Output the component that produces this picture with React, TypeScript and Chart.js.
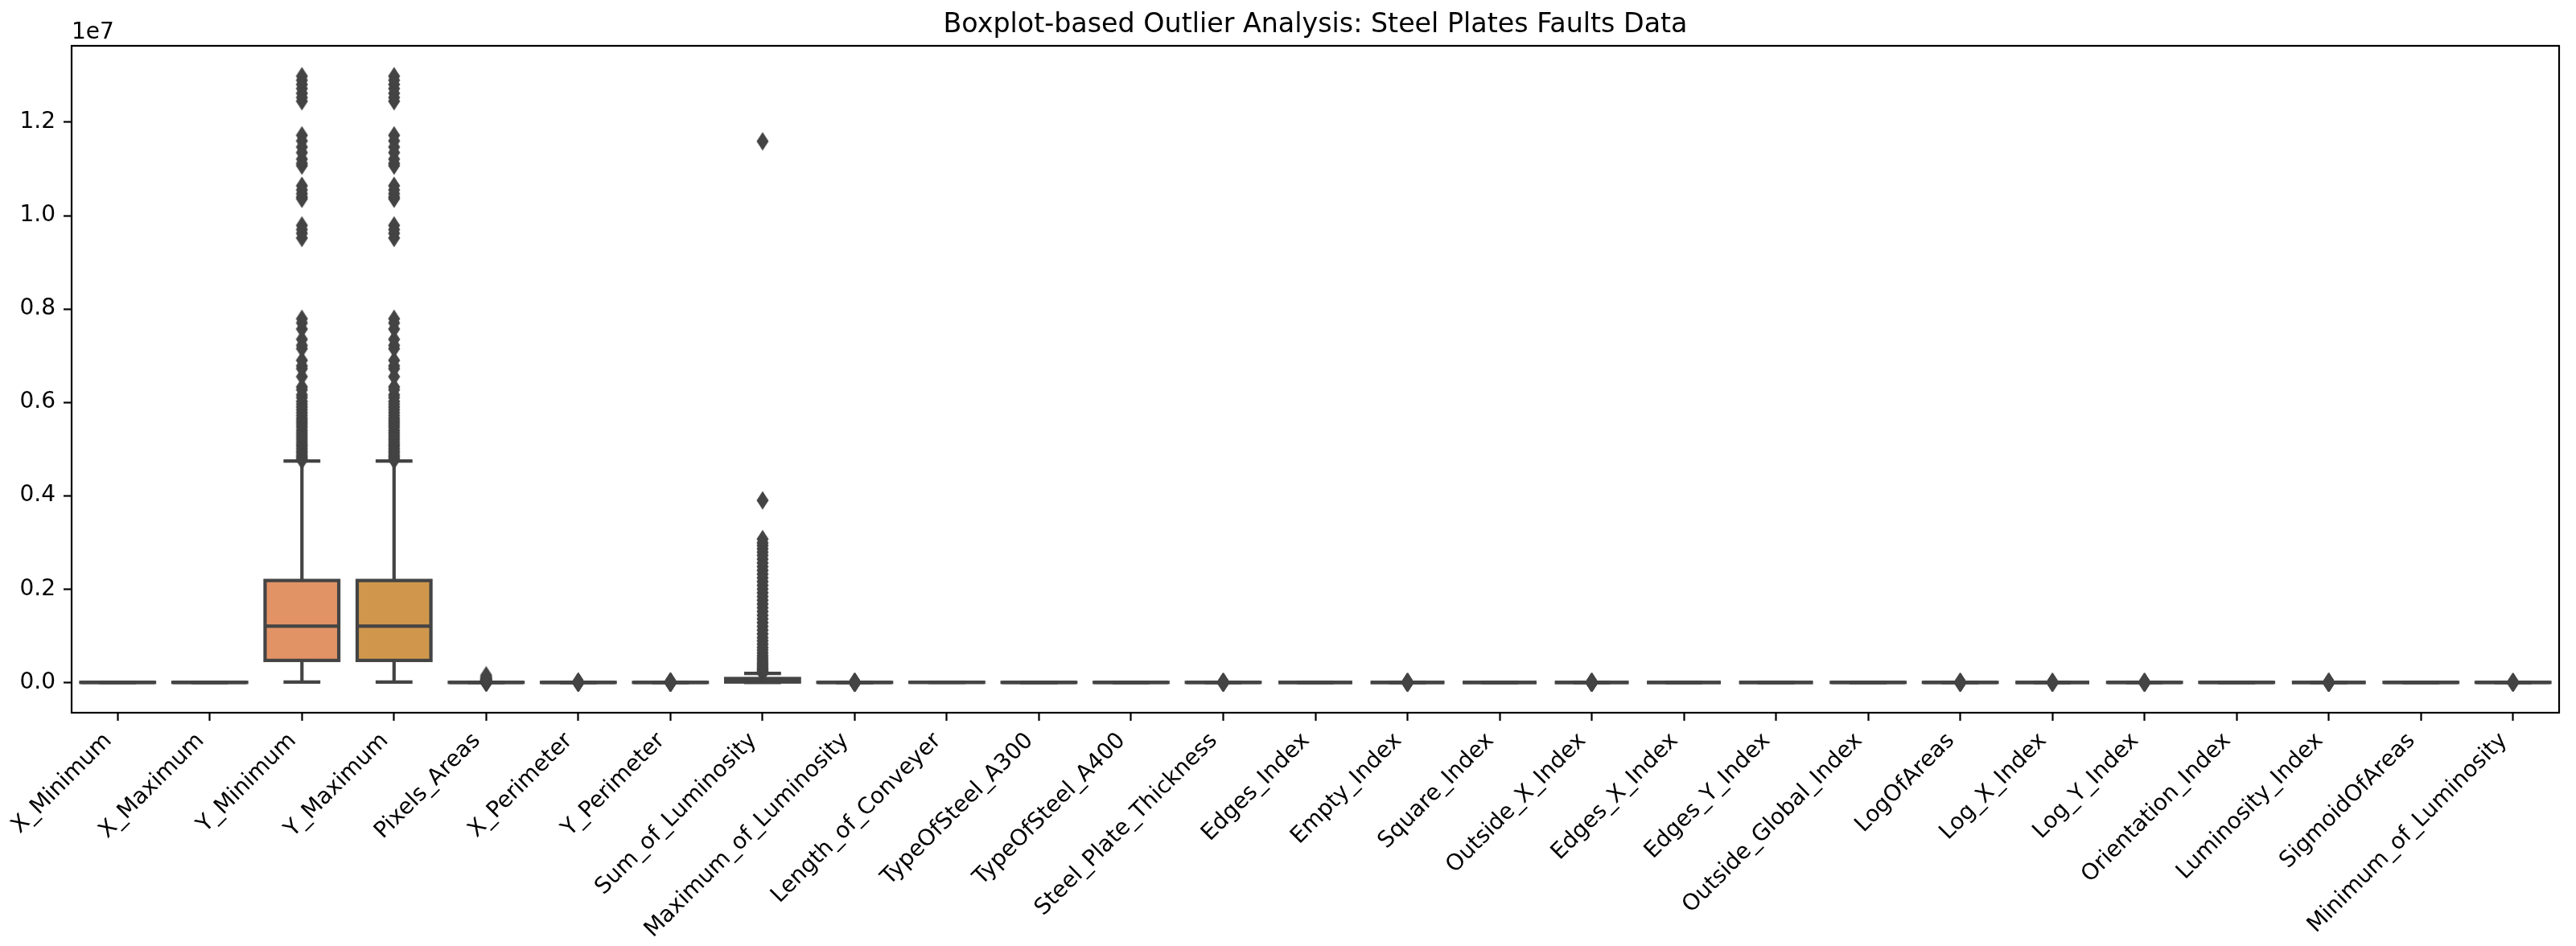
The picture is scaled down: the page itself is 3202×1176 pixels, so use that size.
import React, { useEffect, useRef } from 'react';
import { Chart, registerables } from 'chart.js';

Chart.register(...registerables);

const TITLE = 'Boxplot-based Outlier Analysis: Steel Plates Faults Data';

const categories = [
  'X_Minimum', 'X_Maximum', 'Y_Minimum', 'Y_Maximum', 'Pixels_Areas', 'X_Perimeter', 'Y_Perimeter',
  'Sum_of_Luminosity', 'Maximum_of_Luminosity', 'Length_of_Conveyer', 'TypeOfSteel_A300', 'TypeOfSteel_A400',
  'Steel_Plate_Thickness', 'Edges_Index', 'Empty_Index', 'Square_Index', 'Outside_X_Index', 'Edges_X_Index',
  'Edges_Y_Index', 'Outside_Global_Index', 'LogOfAreas', 'Log_X_Index', 'Log_Y_Index', 'Orientation_Index',
  'Luminosity_Index', 'SigmoidOfAreas', 'Minimum_of_Luminosity',
];

const q1Values = [51, 192, 471253, 471281, 84, 15, 13, 9522, 124, 1358, 0, 0, 40, 0.0604, 0.3158, 0.5161, 0.0044, 0.4118, 0.5968, 0, 1.9243, 1, 1.0792, -0.2727, -0.195, 0.2482, 63];
const medianValues = [435, 467, 1204128, 1204136, 174, 26, 25, 19202, 127, 1364, 0, 1, 70, 0.2273, 0.4121, 0.7778, 0.0101, 0.6364, 0.9474, 1, 2.2406, 1.1761, 1.3222, 0.1111, -0.133, 0.5063, 90];
const q3Values = [1053, 1072, 2183073, 2183084, 822, 84, 83, 83011, 140, 1650, 1, 1, 80, 0.5738, 0.5016, 1, 0.0235, 0.8, 1, 1, 2.9149, 1.5185, 1.7324, 0.5294, -0.0666, 0.9998, 106];
const whiskerLowValues = [0, 4, 6712, 6724, 2, 2, 1, 250, 100, 1227, 0, 0, 40, 0, 0.0417, 0.0083, 0.0015, 0.0144, 0.0484, 0, 0.4771, 0.301, 0.1139, -0.991, -0.3876, 0.119, 0];
const whiskerHighValues = [1705, 1713, 4742000, 4742100, 1928, 187, 186, 193000, 164, 1794, 1, 1, 140, 0.9952, 0.7788, 1, 0.0523, 1, 1, 1, 4.3845, 2.2718, 2.7076, 0.9917, 0.1239, 1, 170];

const yMinimumOutliers = [
  4760000, 4790000, 4830000, 4870000, 4920000, 4960000, 5010000, 5060000, 5100000, 5150000, 5200000,
  5250000, 5300000, 5350000, 5400000, 5460000, 5510000, 5560000, 5610000, 5660000, 5720000, 5780000,
  5840000, 5900000, 5960000, 6020000, 6100000, 6160000, 6270000, 6330000, 6550000, 6720000, 6780000,
  6900000, 7150000, 7220000, 7350000, 7570000, 7700000, 7790000,
  9520000, 9620000, 9700000, 9790000, 10360000, 10400000, 10470000, 10550000, 10640000,
  11070000, 11120000, 11210000, 11350000, 11470000, 11600000, 11720000,
  12450000, 12530000, 12620000, 12720000, 12810000, 12900000, 12987661,
];
const yMaximumOutliers = [
  4760040, 4790050, 4830030, 4870060, 4920020, 4960040, 5010050, 5060030, 5100040, 5150060, 5200030,
  5250020, 5300050, 5350040, 5400030, 5460060, 5510020, 5560040, 5610050, 5660030, 5720040, 5780020,
  5840060, 5900030, 5960050, 6020040, 6100030, 6160060, 6270020, 6330040, 6550050, 6720030, 6780040,
  6900060, 7150030, 7220040, 7350050, 7570020, 7700040, 7790060,
  9520040, 9620030, 9700050, 9790040, 10360060, 10400030, 10470040, 10550020, 10640050,
  11070040, 11120030, 11210060, 11350040, 11470020, 11600050, 11720030,
  12450040, 12530020, 12620050, 12720040, 12810030, 12900060, 12987692,
];
const pixelsAreasOutliers = [1950, 2100, 2400, 2800, 3300, 3900, 4600, 5500, 6600, 8000, 9700, 11800, 14500, 18000, 22500, 28000, 35000, 44000, 55000, 70000, 90000, 115000, 152655];
const xPerimeterOutliers = [190, 210, 240, 280, 330, 400, 500, 650, 850, 1200, 1700, 2500, 3600, 5200, 7400, 10449];
const yPerimeterOutliers = [190, 215, 250, 300, 370, 460, 600, 800, 1100, 1600, 2400, 3500, 5200, 7800, 11500, 18152];
const sumLuminosityOutliers = [
  198000, 215000, 240000, 270000, 300000, 340000, 380000, 420000, 470000, 520000, 570000, 630000,
  690000, 750000, 820000, 890000, 960000, 1040000, 1120000, 1200000, 1280000, 1360000, 1440000,
  1520000, 1600000, 1680000, 1760000, 1840000, 1920000, 2000000, 2080000, 2160000, 2240000, 2320000,
  2400000, 2480000, 2560000, 2640000, 2720000, 2790000, 2860000, 2930000, 2990000, 3070000,
  3900000, 11591414,
];
const maxLuminosityOutliers = [37, 60, 78, 88, 95, 98, 165, 170, 180, 195, 215, 235, 253];
const plateThicknessOutliers = [143, 150, 175, 185, 200, 220, 250, 290, 300];
const emptyIndexOutliers = [0, 0.0071, 0.02, 0.0339, 0.79, 0.82, 0.8571, 0.89, 0.9275];
const outsideXIndexOutliers = [0.0529, 0.06, 0.07, 0.085, 0.1, 0.13, 0.17, 0.23, 0.3, 0.42, 0.6, 0.8759];
const logOfAreasOutliers = [0.301, 4.42, 4.52, 4.61, 4.73, 4.85, 4.97, 5.07, 5.1837];
const logXIndexOutliers = [2.3, 2.38, 2.47, 2.56, 2.68, 2.8, 2.93, 3.0741];
const logYIndexOutliers = [0, 2.72, 2.85, 3.0, 3.2, 3.45, 3.7, 4.0, 4.2587];
const luminosityIndexOutliers = [-0.9989, -0.8, -0.62, -0.5, -0.42, -0.39, 0.13, 0.18, 0.25, 0.35, 0.48, 0.6421];
const minLuminosityOutliers = [171, 175, 180, 186, 191, 197, 203];

const outliersByCategory: Record<string, number[]> = {
  Y_Minimum: yMinimumOutliers,
  Y_Maximum: yMaximumOutliers,
  Pixels_Areas: pixelsAreasOutliers,
  X_Perimeter: xPerimeterOutliers,
  Y_Perimeter: yPerimeterOutliers,
  Sum_of_Luminosity: sumLuminosityOutliers,
  Maximum_of_Luminosity: maxLuminosityOutliers,
  Steel_Plate_Thickness: plateThicknessOutliers,
  Empty_Index: emptyIndexOutliers,
  Outside_X_Index: outsideXIndexOutliers,
  LogOfAreas: logOfAreasOutliers,
  Log_X_Index: logXIndexOutliers,
  Log_Y_Index: logYIndexOutliers,
  Luminosity_Index: luminosityIndexOutliers,
  Minimum_of_Luminosity: minLuminosityOutliers,
};

const yTickValues = [0, 2000000, 4000000, 6000000, 8000000, 10000000, 12000000];
const Y_MIN = -649385;
const Y_MAX = 13637077;

const boxColors = [
  '#E37A8C', '#E3826E', '#E29366', '#D0974C', '#BF9E47', '#ADA544', '#9DA943', '#8CAE45', '#72B349',
  '#58B65C', '#4CB479', '#4CB28B', '#4DB19A', '#4EB0A7', '#4FAFB3', '#51AEBF', '#55ACCB', '#5BA8D9',
  '#76A0E0', '#929AE3', '#A794E3', '#BB8CE3', '#CF84E1', '#DB7ED5', '#E07CC3', '#E27BB1', '#E27B9E',
];

const LINE_COLOR = '#444444';
const FONT = 'DejaVu Sans';

const boxPlugin = {
  id: 'boxWhiskers',
  afterDatasetDraw(chart: any, args: any) {
    if (args.meta.type !== 'bar') return;
    const ctx = chart.ctx;
    const ys = chart.scales.y;
    ctx.save();
    ctx.strokeStyle = LINE_COLOR;
    ctx.lineWidth = 4.2;
    ctx.lineCap = 'butt';
    ctx.lineJoin = 'miter';
    const line = (x1: number, y1: number, x2: number, y2: number) => {
      ctx.beginPath();
      ctx.moveTo(x1, y1);
      ctx.lineTo(x2, y2);
      ctx.stroke();
    };
    args.meta.data.forEach((el: any, i: number) => {
      const { x, width } = el.getProps(['x', 'width'], true);
      const left = x - width / 2;
      const right = x + width / 2;
      const pQ1 = ys.getPixelForValue(q1Values[i]);
      const pQ3 = ys.getPixelForValue(q3Values[i]);
      const pMed = ys.getPixelForValue(medianValues[i]);
      const pLo = ys.getPixelForValue(whiskerLowValues[i]);
      const pHi = ys.getPixelForValue(whiskerHighValues[i]);
      ctx.strokeRect(left, pQ3, width, pQ1 - pQ3);
      line(x, pQ3, x, pHi);
      line(x, pQ1, x, pLo);
      line(x - width / 4, pHi, x + width / 4, pHi);
      line(x - width / 4, pLo, x + width / 4, pLo);
      line(left, pMed, right, pMed);
    });
    ctx.restore();
  },
  afterDraw(chart: any) {
    const ctx = chart.ctx;
    const a = chart.chartArea;
    ctx.save();
    ctx.strokeStyle = '#000';
    ctx.lineWidth = 2.2;
    ctx.strokeRect(a.left, a.top, a.right - a.left, a.bottom - a.top);
    ctx.fillStyle = '#000';
    ctx.font = `28px "${FONT}"`;
    ctx.textAlign = 'left';
    ctx.textBaseline = 'alphabetic';
    ctx.fillText('1e7', a.left, a.top - 9);
    ctx.restore();
  },
};

function makeDiamond(): HTMLCanvasElement {
  const d = document.createElement('canvas');
  d.width = 16;
  d.height = 24;
  const c = d.getContext('2d')!;
  c.fillStyle = LINE_COLOR;
  c.beginPath();
  c.moveTo(8, 0.5);
  c.lineTo(15.5, 12);
  c.lineTo(8, 23.5);
  c.lineTo(0.5, 12);
  c.closePath();
  c.fill();
  return d;
}

export default function App() {
  const canvasRef = useRef<HTMLCanvasElement | null>(null);

  useEffect(() => {
    document.body.style.margin = '0';
    const canvas = canvasRef.current;
    if (!canvas) return;
    Chart.defaults.font.family = FONT;
    const diamond = makeDiamond();

    const outlierPoints: { x: string; y: number }[] = [];
    categories.forEach((cat) => {
      (outliersByCategory[cat] || []).forEach((v) => outlierPoints.push({ x: cat, y: v }));
    });

    const chart = new Chart(canvas, {
      type: 'bar',
      data: {
        labels: categories,
        datasets: [
          {
            type: 'bar',
            label: 'box',
            data: categories.map((_, i) => [q1Values[i], q3Values[i]]) as any,
            backgroundColor: boxColors,
            borderWidth: 0,
            barPercentage: 0.8,
            categoryPercentage: 1.0,
            grouped: false,
            order: 2,
          } as any,
          {
            type: 'line',
            label: 'outliers',
            data: outlierPoints as any,
            showLine: false,
            pointStyle: diamond as any,
            pointRadius: 5,
            pointHoverRadius: 5,
            order: 1,
          } as any,
        ],
      },
      options: {
        responsive: false,
        devicePixelRatio: 1,
        animation: false,
        events: [],
        layout: { padding: { left: 0, top: 0, right: 21, bottom: 0 } },
        plugins: {
          legend: { display: false },
          tooltip: { enabled: false },
          title: {
            display: true,
            text: TITLE,
            fullSize: false,
            color: '#000',
            font: { family: FONT, size: 33.3, weight: 'normal' as any },
            padding: { top: 11, bottom: 6 },
          },
        },
        scales: {
          x: {
            type: 'category',
            offset: true,
            grid: {
              display: true,
              offset: false,
              drawOnChartArea: false,
              drawTicks: true,
              tickLength: 10,
              tickWidth: 2.2,
              tickColor: '#000',
            },
            border: { display: false },
            ticks: {
              autoSkip: false,
              maxRotation: 45,
              minRotation: 45,
              padding: 8.6,
              labelOffset: -11.5,
              color: '#000',
              font: { family: FONT, size: 28 },
            },
            afterFit(scale: any) {
              scale.height = 290;
              scale.paddingLeft = 0;
              scale.paddingRight = 0;
            },
          },
          y: {
            type: 'linear',
            min: Y_MIN,
            max: Y_MAX,
            afterBuildTicks(scale: any) {
              scale.ticks = yTickValues.map((v) => ({ value: v }));
            },
            grid: {
              display: true,
              drawOnChartArea: false,
              drawTicks: true,
              tickLength: 10,
              tickWidth: 2.2,
              tickColor: '#000',
            },
            border: { display: false },
            ticks: {
              padding: 10,
              color: '#000',
              font: { family: FONT, size: 28 },
              callback: (v: any) => (Number(v) / 1e7).toFixed(1),
            },
            afterFit(scale: any) {
              scale.width = 89;
              scale.paddingTop = 0;
              scale.paddingBottom = 0;
            },
          },
        },
      } as any,
      plugins: [boxPlugin],
    });

    return () => chart.destroy();
  }, []);

  return (
    <div style={{ position: 'absolute', left: 0, top: 0, width: 3202, height: 1176, background: '#fff' }}>
      <canvas ref={canvasRef} width={3202} height={1176} style={{ display: 'block' }} />
    </div>
  );
}
